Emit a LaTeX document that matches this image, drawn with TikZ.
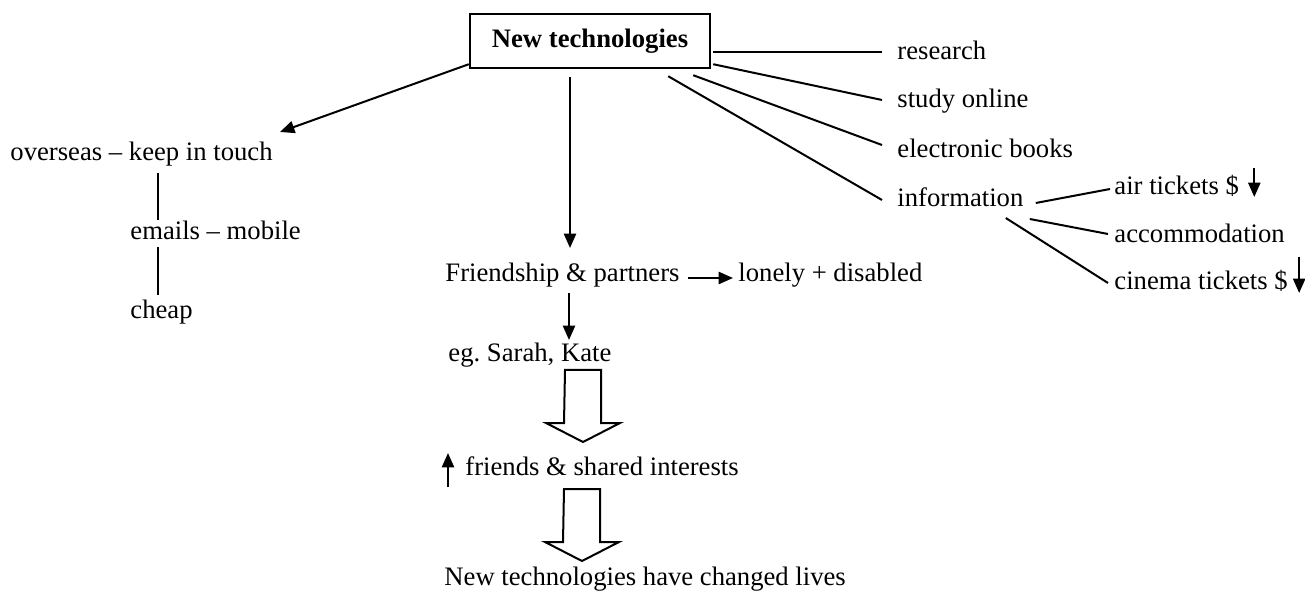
\documentclass[tikz,border=0pt]{standalone}
\usepackage{fontspec}
\setmainfont{Liberation Serif}
\usetikzlibrary{arrows.meta,calc}

\newcommand{\downblock}[1]{\draw[hollow] #1 -- ++(36,0) -- ++(0,53) -- ++(19,0) -- ++(-37,19) -- ++(-37,-19) -- ++(18,0) -- cycle;}

\begin{document}
\begin{tikzpicture}[x=0.45pt,y=-0.45pt,
	txt/.style={inner sep=0pt,anchor=base west,font=\fontsize{12}{14}\selectfont},
	link/.style={line width=0.9pt},
	pointer/.style={line width=0.9pt,-{Triangle[length=6.5pt,width=5.5pt]}},
	hollow/.style={line width=0.9pt,fill=white}]
	\useasboundingbox (0,0) rectangle (1305,592);
	% main topic
	\node[draw,line width=1.1pt,minimum width=108pt,minimum height=24.3pt,inner sep=0pt,font=\fontsize{12}{14}\selectfont\bfseries] (tech) at (590,41) {New technologies};
	% right branch
	\node[txt] (research) at (897,60) {research};
	\node[txt] (study) at (897,108) {study online};
	\node[txt] (ebooks) at (897,158) {electronic books};
	\node[txt] (info) at (897,207) {information};
	\node[txt] (air) at (1114,195) {air tickets \$};
	\node[txt] (accom) at (1114,243) {accommodation};
	\node[txt] (cinema) at (1114,290) {cinema tickets \$};
	% left branch
	\node[txt] (overseas) at (10,161) {overseas -- keep in touch};
	\node[txt] (emails) at (130,240) {emails -- mobile};
	\node[txt] (cheap) at (130,319) {cheap};
	% middle branch
	\node[txt] (friend) at (445,282) {Friendship \& partners};
	\node[txt] (lonely) at (738,282) {lonely + disabled};
	\node[txt] (eg) at (448,362) {eg.\ Sarah, Kate};
	\node[txt] (friends) at (465,475) {friends \& shared interests};
	\node[txt] (lives) at (444,585) {New technologies have changed lives};

	\draw[link] ($(tech.east)+(2,11)$) -- ($(research.base west)+(-15,-8)$);
	\draw[link] ($(tech.south east)+(2,-5)$) -- ($(study.base west)+(-15,-8)$);
	\draw[link] ($(tech.south east)+(-18,6)$) -- ($(ebooks.base west)+(-15,-13)$);
	\draw[link] ($(tech.south east)+(-43,7)$) -- ($(info.base west)+(-15,-7)$);
	\draw[link] ($(info.base east)+(12,-4)$) -- ($(air.base west)+(-4,-6)$);
	\draw[link] ($(info.base east)+(6,12)$) -- ($(accom.base west)+(-6,-9)$);
	\draw[link] ($(info.base east)+(-18,11)$) -- ($(cinema.base west)+(-6,-7)$);
	\coordinate (airtop) at ($(air.base east)+(15,-27)$);
	\coordinate (airend) at ($(air.base east)+(15,2)$);
	\draw[pointer] (airtop) -- (airend);
	\coordinate (cintop) at ($(cinema.base east)+(11,-33)$);
	\coordinate (cinend) at ($(cinema.base east)+(11,3)$);
	\draw[pointer] (cintop) -- (cinend);

	\draw[pointer] ($(tech.south west)+(0,-5)$) -- ($(overseas.base west)+(270,-29)$);
	\draw[link] ($(overseas.base west)+(148,12)$) -- ($(emails.base west)+(28,-20)$);
	\draw[link] ($(emails.base west)+(28,7)$) -- ($(cheap.base west)+(28,-24)$);

	\draw[pointer] ($(tech.south)+(-20,8)$) -- ($(friend.base west)+(125,-34)$);
	\draw[pointer] ($(friend.base east)+(8,-4)$) -- ($(lonely.base west)+(-5,-4)$);
	\draw[pointer] ($(friend.base west)+(124,11)$) -- ($(eg.base west)+(121,-22)$);
	\downblock{($(eg.base west)+(117,8)$)}
	\coordinate (uplow) at ($(friends.base west)+(-17,12)$);
	\coordinate (uphigh) at ($(friends.base west)+(-17,-22)$);
	\draw[pointer] (uplow) -- (uphigh);
	\downblock{($(friends.base west)+(99,14)$)}
\end{tikzpicture}
\end{document}
